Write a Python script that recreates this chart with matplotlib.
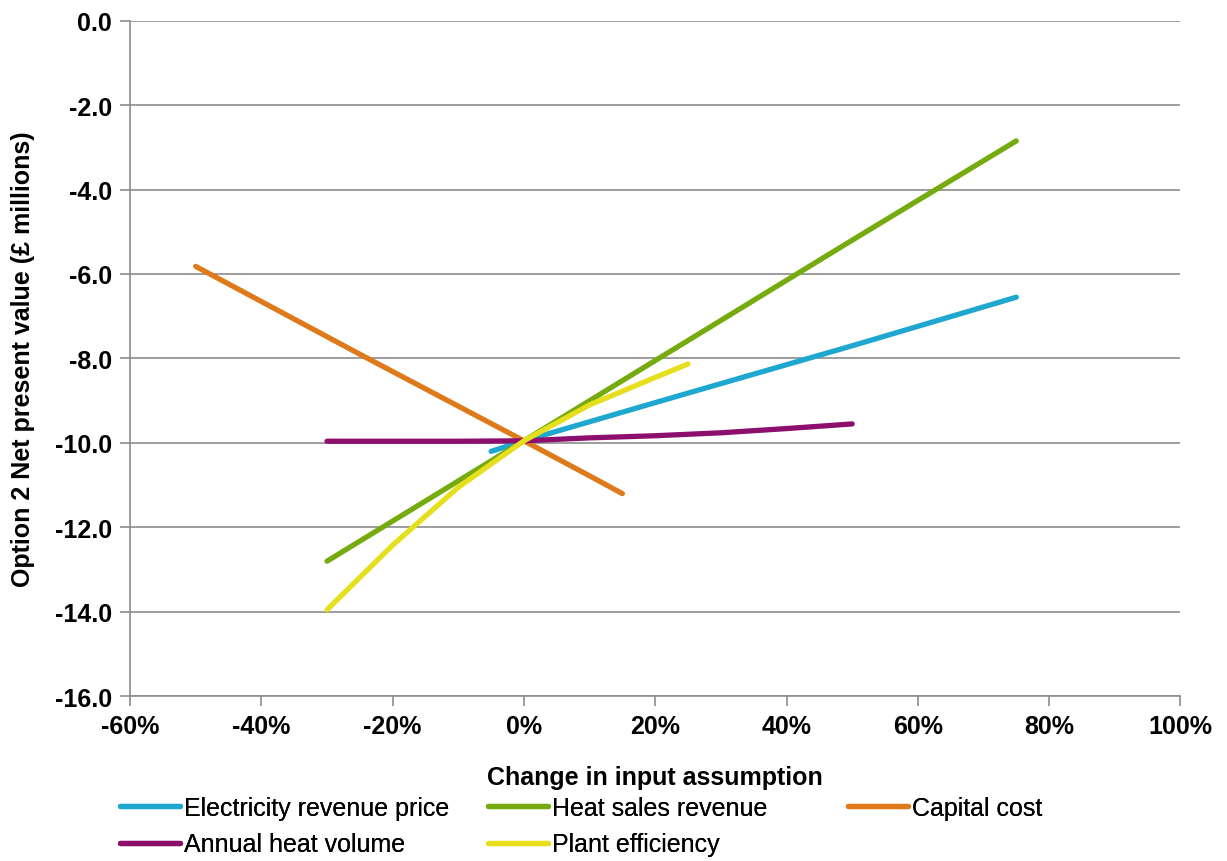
import matplotlib

matplotlib.use("Agg")
import matplotlib.pyplot as plt
from matplotlib.ticker import FuncFormatter

plt.rcParams["font.family"] = ["Liberation Sans", "DejaVu Sans"]

# sensitivity data: change in input (%) vs NPV (£m)
elec_x = [-5, 0, 25, 50, 75]
elec_y = [-10.2, -9.95, -8.82, -7.7, -6.55]
heat_x = [-30, -20, -10, 0, 10, 20, 50, 75]
heat_y = [-12.8, -11.85, -10.9, -9.95, -9.0, -8.05, -5.2, -2.85]
capex_x = [-50, -25, 0, 10, 15]
capex_y = [-5.82, -7.9, -9.95, -10.78, -11.2]
volume_x = [-30, -20, -10, 0, 10, 20, 30, 40, 50]
volume_y = [-9.96, -9.96, -9.96, -9.95, -9.88, -9.83, -9.76, -9.66, -9.55]
eff_x = [-30, -20, -10, 0, 10, 20, 25]
eff_y = [-13.95, -12.42, -11.05, -9.95, -9.1, -8.45, -8.13]

series = [
    ("Electricity revenue price", elec_x, elec_y, "#1ea7cf"),
    ("Heat sales revenue", heat_x, heat_y, "#76ab0f"),
    ("Capital cost", capex_x, capex_y, "#df7a1b"),
    ("Annual heat volume", volume_x, volume_y, "#8c0f6e"),
    ("Plant efficiency", eff_x, eff_y, "#e6df1d"),
]

fig = plt.figure(figsize=(12.27, 8.62), dpi=100)
ax = fig.add_axes([0.106, 0.191, 0.856, 0.784])

lines = {}
for k, (name, xs, ys, color) in enumerate(series):
    ln, = ax.plot(xs, ys, color=color, lw=3.8, solid_capstyle="round", label=name, zorder=3 + k * 0.1)
    lines[name] = ln

ax.set_xlim(-60, 100)
ax.set_ylim(-16, 0)
ax.set_xticks(range(-60, 101, 20))
ax.set_yticks(range(-16, 1, 2))
ax.xaxis.set_major_formatter(FuncFormatter(lambda v, p: f"{int(v)}%"))
ax.yaxis.set_major_formatter(FuncFormatter(lambda v, p: f"{v:.1f}"))
ax.yaxis.grid(True, color="#8c8c8c", lw=1.2)
ax.set_axisbelow(True)

for side in ["top", "right"]:
    ax.spines[side].set_visible(False)
for side in ["left", "bottom"]:
    ax.spines[side].set_color("#8c8c8c")
    ax.spines[side].set_linewidth(1.2)
ax.tick_params(axis="both", direction="out", length=7, width=1.2, color="#8c8c8c",
               labelsize=18, pad=6)
for lbl in ax.get_xticklabels() + ax.get_yticklabels():
    lbl.set_fontweight("bold")

ax.set_xlabel("Change in input assumption", fontsize=18, fontweight="bold", labelpad=19)
ax.set_ylabel("Option 2 Net present value (£ millions)", fontsize=18, fontweight="bold", labelpad=14)

# legend laid out as three separate columns, like the original
columns = [
    (["Electricity revenue price", "Annual heat volume"], 120),
    (["Heat sales revenue", "Plant efficiency"], 488),
    (["Capital cost"], 848),
]
for names, px in columns:
    leg = fig.legend([lines[n] for n in names], names, loc="upper left",
                     bbox_to_anchor=(px / 1227, 1 - 797 / 862), frameon=False, fontsize=18,
                     handlelength=2.4, handletextpad=0.15, labelspacing=0.5, borderpad=0,
                     borderaxespad=0)
    fig.add_artist(leg)

fig.savefig("out.png", dpi=100)
